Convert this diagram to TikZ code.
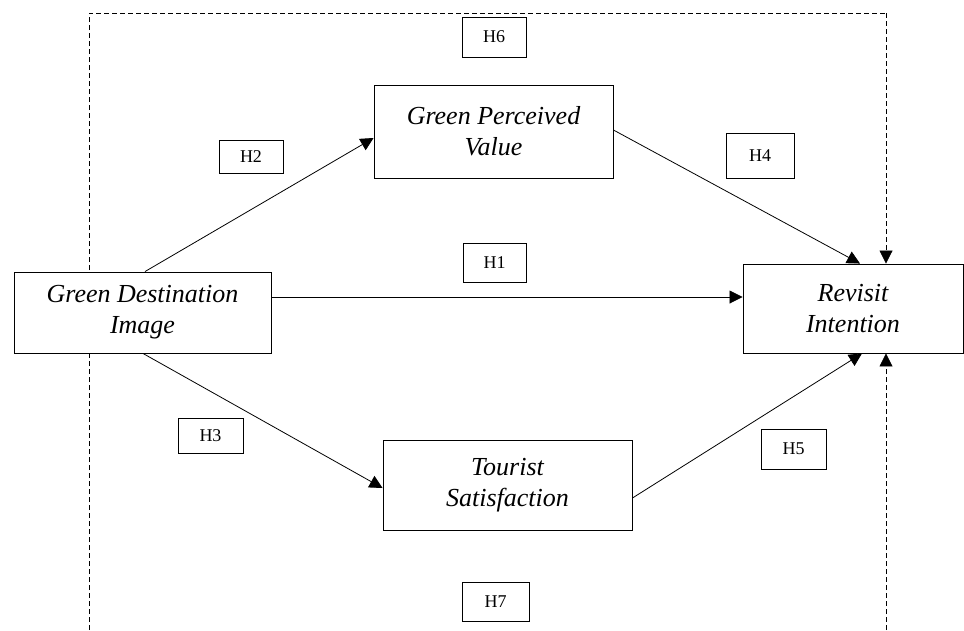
\documentclass[tikz,border=0pt]{standalone}
\usepackage{fontspec}
\setmainfont{Liberation Serif}
\usetikzlibrary{arrows.meta}
\begin{document}
\begin{tikzpicture}[x=1pt,y=-1pt,
  construct/.style={draw, line width=0.9pt, fill=white, align=center, inner sep=0pt,
    font=\fontsize{26}{31}\selectfont\itshape},
  hbox/.style={draw, line width=0.8pt, fill=white, inner sep=0pt,
    font=\fontsize{18}{20}\selectfont},
  link/.style={line width=0.8pt, -{Triangle[length=13pt,width=13pt]}},
  dlink/.style={line width=0.8pt, dash pattern=on 5pt off 3pt, -{Triangle[length=13pt,width=13pt]}},
  frame/.style={line width=0.8pt, dash pattern=on 5pt off 3pt}]
\useasboundingbox (0,0) rectangle (964,630);
% dashed frame
\coordinate (fbl) at (89,630);
\coordinate (ftl) at (89,13);
\coordinate (ftr) at (886,13);
\coordinate (fbr) at (886,630);
\draw[frame] (fbl) -- (ftl) -- (ftr);
% construct boxes
\node[construct, minimum width=257pt, minimum height=81pt] (gdi) at (142.5,312.5) {Green Destination\\Image};
\node[construct, minimum width=239pt, minimum height=93pt] (gpv) at (493.5,131.5) {Green Perceived\\Value};
\node[construct, minimum width=220pt, minimum height=89pt] (ri) at (853,308.5) {Revisit\\Intention};
\node[construct, minimum width=249pt, minimum height=90pt] (ts) at (507.5,485) {Tourist\\Satisfaction};
% hypothesis boxes
\node[hbox, minimum width=64pt, minimum height=40pt] (h6) at (494,37) {H6};
\node[hbox, minimum width=64pt, minimum height=33pt] (h2) at (251,156.5) {H2};
\node[hbox, minimum width=68pt, minimum height=45pt] (h4) at (760,155.5) {H4};
\node[hbox, minimum width=63pt, minimum height=39pt] (h1) at (494.5,262.5) {H1};
\node[hbox, minimum width=65pt, minimum height=35pt] (h3) at (210.5,435.5) {H3};
\node[hbox, minimum width=65pt, minimum height=40pt] (h5) at (793.5,449) {H5};
\node[hbox, minimum width=67pt, minimum height=39pt] (h7) at (495.5,601.5) {H7};
% arrows
\draw[link] ([xshift=2.5pt]gdi.north) -- ([yshift=-6.5pt]gpv.west);
\draw[link] ([yshift=15.5pt]gdi.east) -- ([yshift=11.5pt]ri.west);
\draw[link] ([xshift=0.5pt]gdi.south) -- ([yshift=-3pt]ts.west);
\draw[link] ([yshift=1.5pt]gpv.east) -- ([xshift=7pt]ri.north);
\draw[link] ([yshift=-13pt]ts.east) -- ([xshift=9pt]ri.south);
\draw[dlink] (ftr) -- (ri.north -| ftr);
\draw[dlink] (fbr) -- (ri.south -| fbr);
\end{tikzpicture}
\end{document}
